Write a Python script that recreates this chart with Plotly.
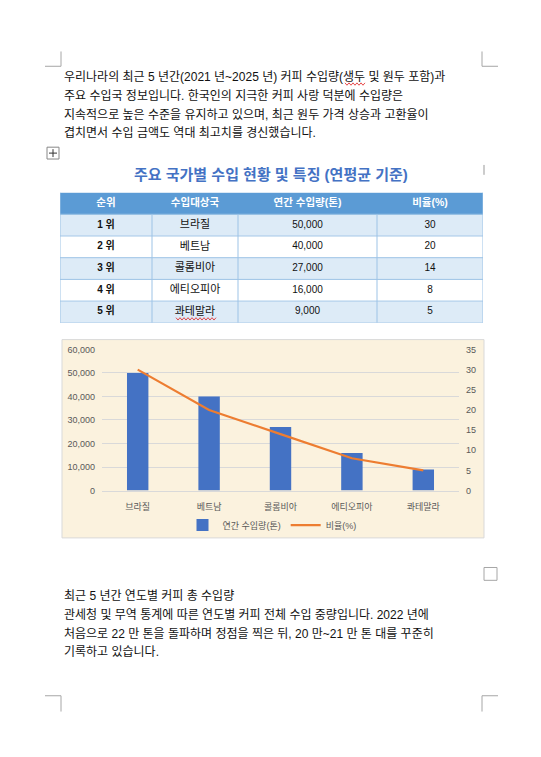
import plotly.graph_objects as go

# ---- data ----
countries = ["브라질", "베트남", "콜롬비아", "에티오피아", "콰테말라"]
ranks = ["1 위", "2 위", "3 위", "4 위", "5 위"]
volumes = [50000, 40000, 27000, 16000, 9000]
shares = [30, 20, 14, 8, 5]
table_headers = ["순위", "수입대상국", "연간 수입량(톤)", "비율(%)"]
left_ticks = [0, 10000, 20000, 30000, 40000, 50000, 60000]
right_ticks = [0, 5, 10, 15, 20, 25, 30, 35]

para1 = [
    "우리나라의 최근 5 년간(2021 년~2025 년) 커피 수입량(생두 및 원두 포함)과",
    "주요 수입국 정보입니다. 한국인의 지극한 커피 사랑 덕분에 수입량은",
    "지속적으로 높은 수준을 유지하고 있으며, 최근 원두 가격 상승과 고환율이",
    "겹치면서 수입 금액도 역대 최고치를 경신했습니다.",
]
para2 = [
    "최근 5 년간 연도별 커피 총 수입량",
    "관세청 및 무역 통계에 따른 연도별 커피 전체 수입 중량입니다. 2022 년에",
    "처음으로 22 만 톤을 돌파하며 정점을 찍은 뒤, 20 만~21 만 톤 대를 꾸준히",
    "기록하고 있습니다.",
]
table_title = "주요 국가별 수입 현황 및 특징 (연평균 기준)"

# ---- layout constants ----
PAGE_W, PAGE_H = 541, 757
OFF = 8  # page body margin
W, H = PAGE_W - OFF, PAGE_H - OFF
FONT = "Liberation Sans, Noto Sans CJK KR, sans-serif"
col_edges = [0, 92, 178, 317, 423]   # table column boundaries (px widths)


def fx(x):
    return (x - OFF) / W


def fy(y):
    return 1 - (y - OFF) / H


fig = go.Figure()

# ---- chart ----
fig.add_trace(go.Bar(
    x=countries, y=volumes, name="연간 수입량(톤)",
    marker=dict(color="#4472C4", line=dict(width=0)), width=0.3,
    xaxis="x", yaxis="y", hoverinfo="skip",
))
fig.add_trace(go.Scatter(
    x=countries, y=shares, name="비율(%)", mode="lines",
    line=dict(color="#ED7D31", width=2.2), xaxis="x", yaxis="y2",
    hoverinfo="skip",
))

# ---- table (heatmap cells + text) ----
n_rows = len(ranks) + 1
n_cols = len(table_headers)
z = [[0] * n_cols] + [[1 if i % 2 == 0 else 2] * n_cols for i in range(len(ranks))]
fig.add_trace(go.Heatmap(
    x=col_edges, y=list(range(n_rows + 1)), z=z,
    zmin=0, zmax=2, showscale=False,
    colorscale=[[0, "#5B9BD5"], [0.25, "#5B9BD5"], [0.25, "#DDEBF7"],
                [0.75, "#DDEBF7"], [0.75, "#FFFFFF"], [1, "#FFFFFF"]],
    xaxis="x3", yaxis="y3", hoverinfo="skip", showlegend=False,
))

col_centers = [(col_edges[i] + col_edges[i + 1]) / 2 for i in range(n_cols)]
body_cols = [[f"<b>{r}</b>" for r in ranks], countries,
             [f"{v:,}" for v in volumes], [str(s) for s in shares]]
tx, ty, tt, tc, ts = [], [], [], [], []
for j, h in enumerate(table_headers):
    tx.append(col_centers[j]); ty.append(0.5); tt.append(f"<b>{h}</b>")
    tc.append("white"); ts.append(10.5)
for j, col in enumerate(body_cols):
    for i, v in enumerate(col):
        tx.append(col_centers[j]); ty.append(i + 1.5); tt.append(v)
        tc.append("#111111"); ts.append(10 if j >= 2 or j == 0 else 11)
fig.add_trace(go.Scatter(
    x=tx, y=ty, text=tt, mode="text", textposition="middle center",
    textfont=dict(family=FONT, size=ts, color=tc),
    xaxis="x3", yaxis="y3", hoverinfo="skip", showlegend=False,
    cliponaxis=False,
))

shapes = []
grid_c = "#9DC3E6"
for r in range(1, n_rows + 1):
    shapes.append(dict(type="line", xref="x3", yref="y3",
                       x0=col_edges[0], x1=col_edges[-1], y0=r, y1=r,
                       line=dict(color=grid_c, width=1)))
for e in col_edges:
    y0 = 0 if e in (col_edges[0], col_edges[-1]) else 1
    shapes.append(dict(type="line", xref="x3", yref="y3",
                       x0=e, x1=e, y0=y0, y1=n_rows,
                       line=dict(color=grid_c, width=1)))

# chart background
shapes.append(dict(type="rect", xref="paper", yref="paper",
                   x0=fx(62), x1=fx(484), y0=fy(540), y1=fy(339),
                   fillcolor="#FBF2DE", line=dict(color="#D9D9D9", width=1),
                   layer="below"))
# page corner marks
cm = "#A6A6A6"
for (vx, vy0, vy1, hx0, hx1, hy) in [
    (61, 47, 62, 45, 61, 62),
    (482, 47, 62, 482, 498, 62),
    (61, 700, 716, 45, 61, 700),
    (482, 700, 716, 482, 498, 700),
]:
    shapes.append(dict(type="line", xref="paper", yref="paper",
                       x0=fx(vx), x1=fx(vx), y0=fy(vy0), y1=fy(vy1),
                       line=dict(color=cm, width=1)))
    shapes.append(dict(type="line", xref="paper", yref="paper",
                       x0=fx(hx0), x1=fx(hx1), y0=fy(hy), y1=fy(hy),
                       line=dict(color=cm, width=1)))
shapes.append(dict(type="rect", xref="paper", yref="paper",
                   x0=fx(484), x1=fx(497), y0=fy(583), y1=fy(570),
                   line=dict(color=cm, width=1)))
shapes.append(dict(type="line", xref="paper", yref="paper",
                   x0=fx(484), x1=fx(484), y0=fy(162), y1=fy(172),
                   line=dict(color="#999999", width=1)))
# move handle
shapes.append(dict(type="rect", xref="paper", yref="paper",
                   x0=fx(47), x1=fx(59), y0=fy(156), y1=fy(144),
                   line=dict(color="#888888", width=1), fillcolor="white"))
shapes.append(dict(type="line", xref="paper", yref="paper",
                   x0=fx(49), x1=fx(57), y0=fy(150), y1=fy(150),
                   line=dict(color="#333333", width=1)))
shapes.append(dict(type="line", xref="paper", yref="paper",
                   x0=fx(53), x1=fx(53), y0=fy(146), y1=fy(154),
                   line=dict(color="#333333", width=1)))


def wavy(x0, x1, y):
    pts = []
    x = x0
    up = True
    while x <= x1:
        pts.append((x, y - 1.2 if up else y + 1.2))
        up = not up
        x += 2
    d = "M " + " L ".join(f"{fx(a):.5f},{fy(b):.5f}" for a, b in pts)
    return dict(type="path", xref="paper", yref="paper", path=d,
                line=dict(color="#E02020", width=0.8))


shapes.append(wavy(345, 365, 80))
shapes.append(wavy(176, 217, 318))

annotations = []
for i, t in enumerate(para1):
    annotations.append(dict(text=t, x=fx(62), y=fy(73 + i * 19),
                            xref="paper", yref="paper", xanchor="left",
                            yanchor="middle", showarrow=False,
                            font=dict(family=FONT, size=12, color="#111111")))
for i, t in enumerate(para2):
    annotations.append(dict(text=t, x=fx(62), y=fy(599 + i * 19),
                            xref="paper", yref="paper", xanchor="left",
                            yanchor="middle", showarrow=False,
                            font=dict(family=FONT, size=12, color="#111111")))
annotations.append(dict(text=f"<b>{table_title}</b>", x=fx(271), y=fy(172),
                        xref="paper", yref="paper", xanchor="center",
                        yanchor="middle", showarrow=False,
                        font=dict(family=FONT, size=15, color="#4472C4")))

tick_font = dict(family=FONT, size=9, color="#595959")

fig.update_layout(
    width=W, height=H,
    margin=dict(l=0, r=0, t=0, b=0),
    paper_bgcolor="white", plot_bgcolor="rgba(0,0,0,0)",
    showlegend=True,
    legend=dict(orientation="h", x=fx(272), y=fy(527), xanchor="center",
                yanchor="middle", font=tick_font, bgcolor="rgba(0,0,0,0)",
                itemwidth=30, tracegroupgap=0),
    xaxis=dict(domain=[fx(102), fx(459)], anchor="y", type="category",
               showgrid=False, showline=True, linecolor="#D9D9D9",
               ticks="", tickfont=tick_font, ticklabelstandoff=8,
               fixedrange=True),
    yaxis=dict(domain=[fy(492), fy(349)], range=[0, 60000],
               tickvals=left_ticks, tickformat=",", tickfont=tick_font,
               showgrid=True, gridcolor="#D9D9D9", gridwidth=1,
               zeroline=False, showline=False, ticks="",
               ticklabelstandoff=6, fixedrange=True),
    yaxis2=dict(domain=[fy(492), fy(349)], range=[0, 35], overlaying="y",
                side="right", anchor="x", tickvals=right_ticks,
                tickfont=tick_font, showgrid=False, zeroline=False,
                showline=False, ticks="", ticklabelstandoff=6,
                fixedrange=True),
    xaxis3=dict(domain=[fx(60), fx(483)], anchor="y3",
                range=[col_edges[0], col_edges[-1]], visible=False,
                fixedrange=True),
    yaxis3=dict(domain=[fy(322), fy(190)], anchor="x3",
                range=[n_rows, 0], visible=False, fixedrange=True),
    shapes=shapes,
    annotations=annotations,
)

fig.write_html("out.html")
